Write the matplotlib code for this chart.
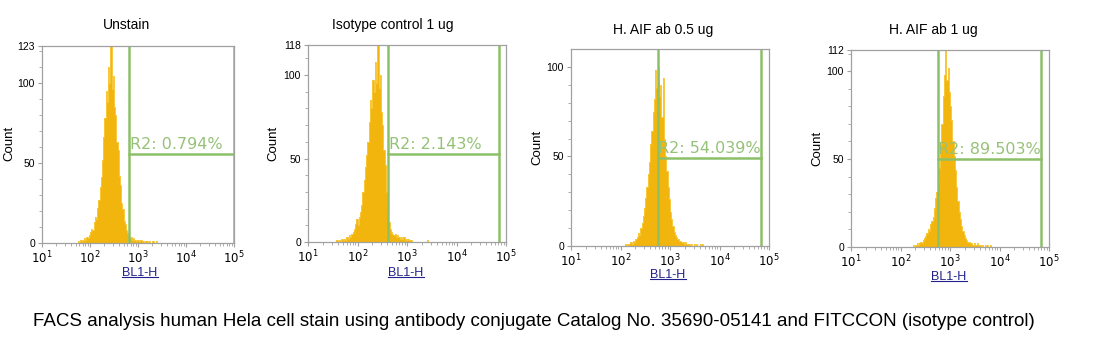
import numpy as np
import matplotlib
matplotlib.use("Agg")
import matplotlib.pyplot as plt
from matplotlib.lines import Line2D
from matplotlib.ticker import FixedLocator, LogLocator, NullFormatter

# panel titles and gate results
titles = ["Unstain", "Isotype control 1 ug", "H. AIF ab 0.5 ug", "H. AIF ab 1 ug"]
gate_labels = ["R2: 0.794%", "R2: 2.143%", "R2: 54.039%", "R2: 89.503%"]

# histogram channels: first bin (log10 of BL1-H) and a fixed log width
bin_step = 0.025
start_logs = [1.75, 1.575, 2.10, 2.25]

counts_unstain = [1, 0, 2, 1, 2, 3, 2, 4, 3, 5, 7, 9, 8, 13, 16, 15, 22, 27, 35, 41,
                  52, 66, 78, 95, 88, 110, 100, 123, 96, 104, 85, 80, 63, 58, 42, 36,
                  25, 21, 14, 12, 8, 6, 4, 3, 4, 2, 3, 2, 1, 2, 2, 1, 2, 1, 1, 0, 1,
                  1, 0, 1, 0, 0, 1, 0, 0, 1]
counts_isotype = [1, 0, 1, 0, 2, 1, 2, 1, 3, 2, 4, 3, 5, 6, 8, 11, 14, 10, 15, 18,
                  22, 30, 37, 45, 52, 60, 72, 85, 80, 97, 90, 108, 95, 118, 92, 100,
                  78, 70, 55, 46, 30, 18, 12, 8, 6, 5, 4, 5, 3, 4, 3, 2, 3, 2, 3, 1,
                  2, 1, 2, 1, 1, 0, 0, 0, 0, 0, 0, 0, 0, 0, 0, 0, 0, 1]
counts_aif_05 = [1, 0, 1, 1, 2, 1, 3, 2, 4, 5, 7, 6, 10, 13, 17, 21, 27, 33, 40, 47,
                 57, 64, 75, 82, 98, 88, 100, 84, 90, 72, 94, 60, 50, 42, 33, 26, 19,
                 15, 11, 8, 6, 5, 4, 3, 3, 2, 2, 1, 2, 1, 1, 1, 0, 1, 0, 1, 0, 1, 0,
                 0, 1, 0, 1]
counts_aif_1 = [1, 0, 1, 2, 1, 2, 3, 2, 4, 5, 6, 8, 10, 9, 13, 15, 17, 22, 28, 31,
                36, 45, 58, 70, 86, 98, 112, 95, 102, 88, 80, 72, 60, 52, 44, 34, 26,
                20, 16, 12, 9, 7, 5, 4, 3, 3, 2, 2, 1, 2, 1, 1, 2, 1, 1, 0, 1, 0, 1,
                0, 1, 0, 1]
all_counts = [counts_unstain, counts_isotype, counts_aif_05, counts_aif_1]

y_max = [123, 118, 110, 112]
y_tick_vals = [[0, 50, 100, 123], [0, 50, 100, 118], [0, 50, 100], [0, 50, 100, 112]]

# R2 gate: lower / upper BL1-H bound and drawn height
gate_low = [660, 410, 560, 560]
gate_high = [100000, 72000, 70000, 70000]
gate_level = [55.5, 53, 49.3, 50]

# layout in pixels (left, right, top, bottom) of each plot box
W, H = 1117, 356
boxes = [(42, 234, 46, 243), (308, 506, 45, 242), (571, 769, 49, 246), (851, 1049, 50, 247)]
title_pos = [(127, 25), (393, 25), (663, 30), (933, 30)]
ylabel_pos = [(9, 143), (273, 143), (537, 147), (817, 148)]
xlabel_pos = [(140, 273), (406, 273), (668, 275), (949, 277)]

fill_col = "#F2B50E"
edge_col = "#F8C83A"
gate_col = "#8CC068"
gate_text_col = "#96C278"
frame_col = "#A0A0A0"

plt.rcParams["font.family"] = ["Liberation Sans", "DejaVu Sans"]


def fx(x):
    return x / W


def fy(y):
    return 1 - y / H


fig = plt.figure(figsize=(W / 100, H / 100), dpi=100)
fig.patch.set_facecolor("white")

xlabels = []
for i in range(4):
    l, r, t, b = boxes[i]
    ax = fig.add_axes([fx(l), fy(b), (r - l) / W, (b - t) / H])

    counts = np.array(all_counts[i])
    edges = 10 ** (start_logs[i] + bin_step * np.arange(len(counts) + 1))
    ax.stairs(counts, edges, fill=True, color=fill_col, lw=0)
    ax.stairs(counts, edges, color=edge_col, lw=0.7)

    lo, hi, lev = gate_low[i], gate_high[i], gate_level[i]
    ax.plot([lo, lo], [0, y_max[i]], color=gate_col, lw=1.8, solid_capstyle="butt")
    ax.plot([hi, hi], [0, y_max[i]], color=gate_col, lw=1.8, solid_capstyle="butt")
    ax.plot([lo, hi], [lev, lev], color=gate_col, lw=1.8)
    ax.text(lo * 1.04, lev + 1.2, gate_labels[i], color=gate_text_col, fontsize=11.5,
            family="DejaVu Sans", va="bottom", ha="left")

    ax.set_xscale("log")
    ax.set_xlim(10, 100000)
    ax.set_ylim(0, y_max[i])
    ax.xaxis.set_major_locator(FixedLocator([10, 100, 1000, 10000, 100000]))
    ax.xaxis.set_minor_locator(LogLocator(base=10, subs=np.arange(2, 10)))
    ax.xaxis.set_minor_formatter(NullFormatter())
    ax.set_xticklabels([r"$10^{1}$", r"$10^{2}$", r"$10^{3}$", r"$10^{4}$", r"$10^{5}$"])
    ax.yaxis.set_major_locator(FixedLocator(y_tick_vals[i]))
    ax.yaxis.set_minor_locator(FixedLocator(np.arange(0, y_max[i], 10)))
    ax.tick_params(axis="both", which="major", length=3, width=0.8, color=frame_col,
                   labelsize=7.5, pad=2)
    ax.tick_params(axis="x", which="major", labelsize=8.5)
    ax.tick_params(axis="both", which="minor", length=2, width=0.6, color=frame_col)
    for sp in ax.spines.values():
        sp.set_color(frame_col)
        sp.set_linewidth(0.9)

    fig.text(fx(title_pos[i][0]), fy(title_pos[i][1]), titles[i], fontsize=10,
             ha="center", va="center")
    fig.text(fx(ylabel_pos[i][0]), fy(ylabel_pos[i][1]), "Count", fontsize=9.5,
             rotation=90, ha="center", va="center")
    xl = fig.text(fx(xlabel_pos[i][0]), fy(xlabel_pos[i][1]), "BL1-H", fontsize=9,
                  color="#22228A", ha="center", va="center")
    xlabels.append(xl)

fig.text(fx(33), fy(322), "FACS analysis human Hela cell stain using antibody conjugate "
         "Catalog No. 35690-05141 and FITCCON (isotype control)", fontsize=13.5,
         ha="left", va="center")

# underline the axis labels like the cytometer software does
fig.canvas.draw()
renderer = fig.canvas.get_renderer()
for xl in xlabels:
    bb = xl.get_window_extent(renderer).transformed(fig.transFigure.inverted())
    y_line = bb.y0 + 2.0 / H
    fig.add_artist(Line2D([bb.x0, bb.x1], [y_line, y_line], color="#22228A", lw=0.8))

fig.savefig("out.png", dpi=100)
